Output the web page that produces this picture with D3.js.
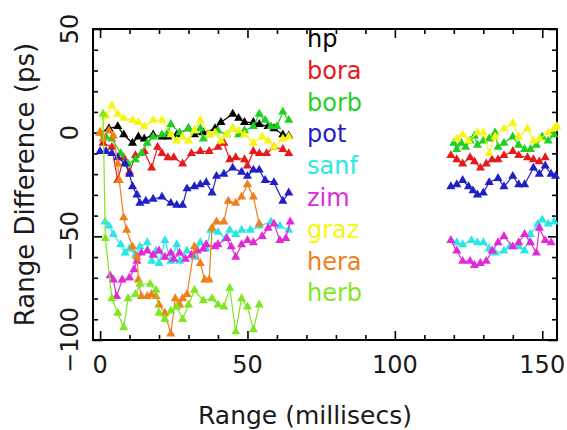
<!DOCTYPE html>
<html>
<head>
<meta charset="utf-8">
<script src="https://cdn.jsdelivr.net/npm/d3@7"></script>
<style>
  body { margin: 0; background: #fff; }
  text { font-family: "DejaVu Sans", sans-serif; }
</style>
</head>
<body>
<div id="chart"></div>
<script>
// station names, in legend / drawing order
const seriesNames = ["hp", "bora", "borb", "pot", "sanf", "zim", "graz", "hera", "herb"];
const xMajorTicks = [0, 50, 100, 150];
const yMajorTicks = [-100, -50, 0, 50];

// each series is a list of runs of [range (ms), range difference (ps)]
const hp = [
  [[0,0],[3,2],[6,3],[8,-1],[11,-5],[13,-2],[15,-3],[18,-1],[21,-2],[23,-2],[26,-1],[30,2],[32,-1],[35,0],
   [39,2],[41,5],[45,9],[47,7],[49,5],[52,5],[54,4],[57,3],[59,2],[62,-1],[64,-1.5]]
];
const bora = [
  [[0,0],[1,-5],[4,-7],[6,-23],[8,-12],[10,-19],[12,-11],[15,-9],[17.5,-17],[19.5,-7],[21,-10],[23,-12],
   [25,-12],[28,-15],[31,-10],[34,-9],[37,-9],[40,-7],[42,-5],[44,-13],[46,-12],[49,-13],[50,-16],[52,-9],
   [54,-10],[56.5,-10],[59,-7],[62,-8],[64,-10]],
  [[119,-11],[121,-13],[123,-15],[125.5,-12],[127,-14],[129,-17],[131,-15],[133,-13],[135,-13],[137,-11],
   [140,-9],[142,-11],[145,-12],[147,-13],[149,-14],[151,-12]]
];
const borb = [
  [[0,0],[2,-2],[4,-3],[7,-10],[9.5,-15],[12,-13],[14,-10],[16,-5],[18,-2],[21,-1],[23,0],[24,4],[27,0],
   [30,2],[32,1],[34,2],[35,-3],[37,-1],[40,1],[43,-1],[45,2],[47,-1],[49,1],[52,3],[54,9],[56,6],[58,3],
   [60,3],[62,10],[64,6]],
  [[120,-5],[121,-8],[122.5,-5],[124,-7],[125.5,-4],[127,-1.5],[128,-6],[130,-4],[132,-3],[134,0],[135,-7],
   [137,-5],[140,-2],[142,-6],[144,-8],[146,-8],[148,-6],[150,-2],[152,-4],[154,-1]]
];
const pot = [
  [[0,-9],[2,-9],[4,-10],[6,-12],[8.5,-15],[10,-20],[11,-26],[12.5,-30],[13.5,-34],[15.5,-33],[18,-32],
   [21,-31],[24,-34],[26,-35],[28,-35],[29.5,-27],[32,-26],[34,-25],[36,-24],[38,-29],[39.5,-21],[42,-20],
   [45,-17],[48,-19],[50,-21],[52,-18],[54,-18],[56,-23],[59,-24],[62,-33],[64,-29]],
  [[119,-26],[121,-25],[123,-23],[125,-26],[126.5,-28],[128,-30],[130,-29],[132,-24],[135,-22],[137,-26],
   [140,-21],[142,-25],[144,-25],[147,-17],[149,-20],[151,-16],[153,-20],[154.5,-21]]
];
const sanf = [
  [[1.7,-43],[3,-45],[4.5,-49],[7,-54],[8.5,-58],[10,-56],[12,-59],[13.5,-55],[16,-53],[17.5,-62],[19,-57],
   [20,-63],[22,-52],[24,-62],[26,-54],[27,-62],[29.5,-57],[32,-60],[34,-53],[36,-56],[37.5,-47],[40,-48],
   [42.5,-51],[44,-47],[46,-49],[48,-47],[51,-47],[54,-45],[58,-43],[61,-45],[64,-47]],
  [[119,-52],[121,-53],[123,-54],[126,-52],[128,-53],[130,-53],[132,-56],[134,-58],[137,-57],[139,-55],
   [142,-55],[144,-57],[146,-49],[148.5,-44],[150,-42],[152,-44],[154,-43]]
];
const zim = [
  [[3.4,-69],[4.5,-71],[5.6,-79],[7.5,-71],[10,-70],[11.5,-66],[12.5,-62],[14,-58],[16,-57],[18,-59],
   [20,-57],[22,-60],[24,-58],[25,-61],[27,-58],[29,-61],[31,-59],[33,-57],[35,-56],[36,-54],[39,-55],
   [40,-54],[43,-51],[44.5,-55],[46,-60],[48,-54],[50,-52],[52,-53],[55,-50],[57,-46],[59,-44],[61,-52],
   [63,-51],[64.5,-43]],
  [[119,-52],[121,-57],[123,-62],[125.5,-62],[127,-64],[129,-63],[131,-62],[133,-57],[135,-53],[137,-50],
   [140,-55],[142,-53],[144,-49],[146,-53],[148,-58],[149,-46],[151,-52],[153,-53]]
];
const graz = [
  [[0,0],[2,8],[4,13],[6,9],[8,7],[11,6],[13,5],[15,3],[18,6],[21,6],[24,-1],[26,-4],[28,-2],[30,-4],
   [32,1],[34,6],[37,-1],[39,0],[41,-4],[43,-1],[45,2],[47,1],[49,-1],[52,-5],[55,-2],[57,-4],[59,-7],
   [62,-3],[64,-2]],
  [[121,-3],[123,-1],[125,-4],[128,0],[130,0],[132,-10],[134,-2],[137,2],[140,4.5],[142,-2],[145,2],
   [147,-4],[149,-3],[152,0],[154,2],[155,3]]
];
const hera = [
  [[0,0],[1,-3],[3,1],[4.5,-1.5],[6,-15],[6.5,-23],[8,-41],[9,-47],[11,-55],[12.5,-60],[13,-71],[14,-79],
   [16,-79],[17.5,-78],[19,-79],[20,-83],[22,-87],[24,-97],[25.5,-80],[27,-83],[28,-80],[29.5,-78],[32,-55],
   [34,-63],[35.5,-71],[37,-71],[38,-46],[39.5,-43],[42,-43],[43.5,-33],[46,-34],[48,-31],[50,-25],
   [52,-31],[54,-44]]
];
const herb = [
  [[1,9],[1.8,-51],[4,-80],[6,-87],[8,-94],[9.5,-80],[12,-78],[13.5,-73],[17,-73],[19,-76],[20,-87],
   [22,-90],[24,-86],[26,-84],[28,-90],[30,-83],[32,-76],[35,-81],[38,-80],[40,-83],[42,-84],[44,-75],
   [46,-96],[48,-80],[50,-84],[52,-95],[54,-83]]
];

const seriesData = { hp, bora, borb, pot, sanf, zim, graz, hera, herb };

// pgplot-like palette, slightly muted
const colors = {
  hp: "#000000", bora: "#e6191c", borb: "#1fd01f", pot: "#1f1fc8", sanf: "#2ae6e6",
  zim: "#e02ad8", graz: "#f6f613", hera: "#f07f1a", herb: "#7fe61f"
};

const width = 567, height = 430;
const box = { left: 93, right: 557, top: 29, bottom: 340 };

const svg = d3.select("#chart").append("svg")
  .attr("width", width)
  .attr("height", height);

const x = d3.scaleLinear().domain([-2.4, 155]).range([box.left, box.right]);
const y = d3.scaleLinear().domain([-100, 50]).range([box.bottom, box.top]);

const minorX = d3.range(0, 151, 10).filter(v => !xMajorTicks.includes(v));
const minorY = d3.range(-100, 51, 10).filter(v => !yMajorTicks.includes(v));

// ticks point inwards on all four sides
function tickAxis(axisFn, scale, values, size, pos) {
  svg.append("g")
    .attr("transform", pos)
    .call(axisFn(scale).tickValues(values).tickSize(-size).tickFormat(""))
    .call(g => g.select(".domain").remove())
    .call(g => g.selectAll("line").attr("stroke", "#000").attr("stroke-width", 1.6));
}
tickAxis(d3.axisBottom, x, minorX, 5, `translate(0,${box.bottom})`);
tickAxis(d3.axisBottom, x, xMajorTicks, 9, `translate(0,${box.bottom})`);
tickAxis(d3.axisTop, x, minorX, 5, `translate(0,${box.top})`);
tickAxis(d3.axisTop, x, xMajorTicks, 9, `translate(0,${box.top})`);
tickAxis(d3.axisLeft, y, minorY, 5, `translate(${box.left},0)`);
tickAxis(d3.axisLeft, y, yMajorTicks, 9, `translate(${box.left},0)`);
tickAxis(d3.axisRight, y, minorY, 5, `translate(${box.right},0)`);
tickAxis(d3.axisRight, y, yMajorTicks, 9, `translate(${box.right},0)`);

svg.append("rect")
  .attr("x", box.left)
  .attr("y", box.top)
  .attr("width", box.right - box.left)
  .attr("height", box.bottom - box.top)
  .attr("fill", "none")
  .attr("stroke", "#000")
  .attr("stroke-width", 2);

// tick labels
svg.append("g").selectAll("text")
  .data(xMajorTicks)
  .join("text")
  .attr("x", d => x(d))
  .attr("y", 373)
  .attr("text-anchor", "middle")
  .attr("font-size", 24)
  .attr("fill", "#1a1a1a")
  .text(d => d);

svg.append("g").selectAll("text")
  .data(yMajorTicks)
  .join("text")
  .attr("transform", d => `translate(78,${y(d)}) rotate(-90)`)
  .attr("text-anchor", "middle")
  .attr("font-size", 24)
  .attr("fill", "#1a1a1a")
  .text(d => d < 0 ? "\u2212" + Math.abs(d) : d);

// axis titles
svg.append("text")
  .attr("x", 305)
  .attr("y", 424)
  .attr("text-anchor", "middle")
  .attr("font-size", 25)
  .attr("fill", "#1a1a1a")
  .text("Range (millisecs)");

svg.append("text")
  .attr("transform", `translate(34,${(box.top + box.bottom) / 2}) rotate(-90)`)
  .attr("text-anchor", "middle")
  .attr("font-size", 26)
  .attr("fill", "#1a1a1a")
  .text("Range Difference (ps)");

// series
const line = d3.line().x(d => x(d[0])).y(d => y(d[1]));
const tri = d3.symbol().type(d3.symbolTriangle).size(36);

seriesNames.forEach(name => {
  const g = svg.append("g");
  seriesData[name].forEach(run => {
    g.append("path")
      .attr("d", line(run))
      .attr("fill", "none")
      .attr("stroke", colors[name])
      .attr("stroke-width", 1.2);
    g.selectAll(null)
      .data(run)
      .join("path")
      .attr("d", tri)
      .attr("transform", d => `translate(${x(d[0])},${y(d[1])})`)
      .attr("fill", colors[name]);
  });
});

// legend
svg.append("g").selectAll("text")
  .data(seriesNames)
  .join("text")
  .attr("x", 307)
  .attr("y", (d, i) => 47 + i * 31.8)
  .attr("font-size", 24)
  .attr("fill", d => colors[d])
  .text(d => d);
</script>
</body>
</html>
